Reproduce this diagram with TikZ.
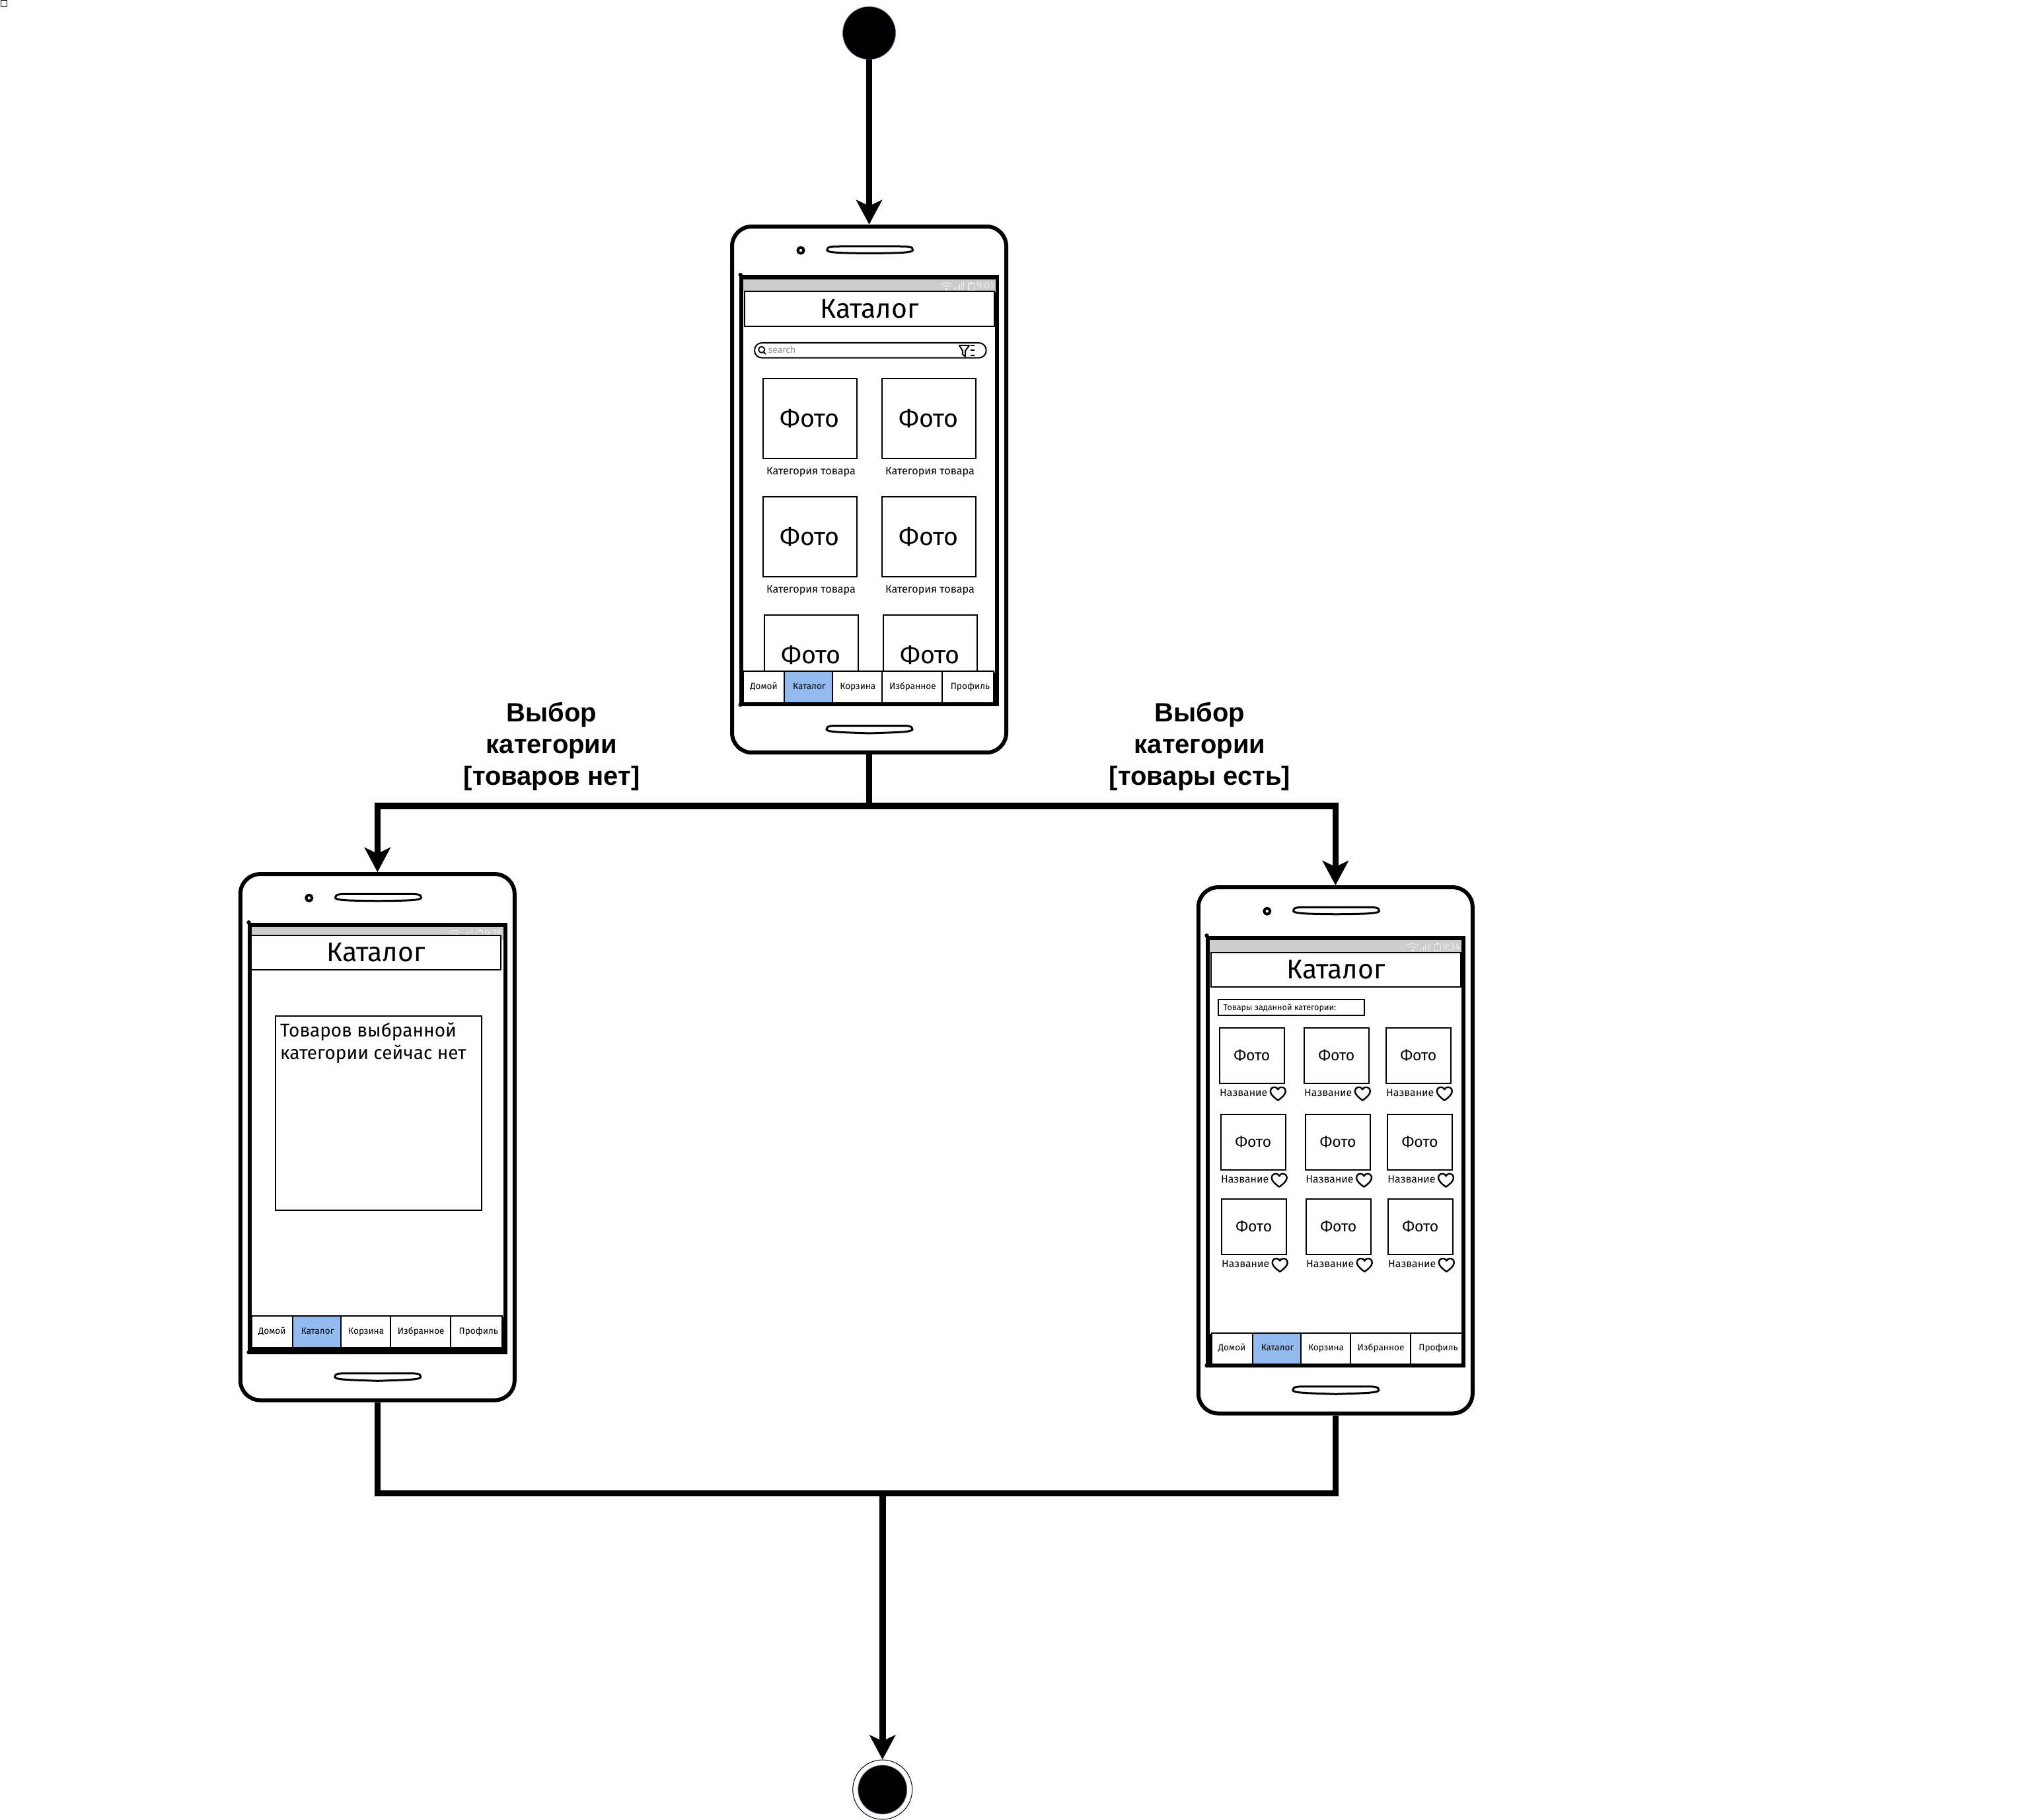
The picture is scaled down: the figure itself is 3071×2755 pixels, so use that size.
\documentclass[tikz,border=0pt]{standalone}
\usepackage{fontspec}
\usepackage{tikz}
\usetikzlibrary{arrows.meta,calc}
\setmainfont{Fira Sans}
\newfontfamily\lblfont{Liberation Sans}
\definecolor{statusgray}{HTML}{CCCCCC}
\definecolor{statuslight}{HTML}{EDEDED}
\definecolor{tabblue}{HTML}{94BBF0}
\definecolor{searchgray}{HTML}{8E8E9A}
\definecolor{halo}{HTML}{6A7A96}
\tikzset{
  x=0.5pt,y=-0.5pt,
  phonebody/.style={draw=black,fill=white,line width=3pt,rounded corners=15pt,minimum width=207.5pt,minimum height=398.2pt,inner sep=0pt},
  screenframe/.style={draw=black,line width=3.2pt,fill=white},
  cambutton/.style={draw=black,circle,line width=2pt,minimum size=4.5pt,inner sep=0pt},
  speakerline/.style={draw=black,fill=white,line width=1.5pt},
  titlebox/.style={draw=black,fill=white,line width=1pt,minimum width=189pt,minimum height=26.2pt,inner sep=0pt},
  titletext/.style={inner sep=0pt,font=\fontsize{20.5}{24}\selectfont},
  photobig/.style={draw=black,fill=white,line width=1.15pt,minimum width=70.85pt,minimum height=60.75pt,inner sep=0pt,font=\fontsize{18.8}{22}\selectfont},
  photosmall/.style={draw=black,fill=white,line width=1.15pt,minimum width=49pt,minimum height=42pt,inner sep=0pt,font=\fontsize{11.5}{14}\selectfont},
  captiontext/.style={inner sep=0pt,font=\fontsize{8.1}{10}\selectfont},
  nametext/.style={inner sep=0pt,anchor=west,font=\fontsize{7.9}{10}\selectfont},
  tabcell/.style={draw=black,line width=1pt,inner sep=0pt,minimum height=23.6pt,text height=4.9pt,text depth=1.4pt,font=\fontsize{6.8}{8}\selectfont},
  thinbox/.style={draw=black,line width=1pt,fill=white,inner sep=0pt},
  statusline/.style={draw=statuslight,line width=0.6pt},
  flowline/.style={draw=black,line width=4.8pt},
  flowarrow/.style={flowline,-{Stealth[length=18.5pt,width=19.5pt,inset=4.5pt]}},
  startdot/.style={circle,fill=black,draw=halo,line width=0.4pt,minimum size=40pt,inner sep=0pt},
  endring/.style={circle,fill=white,draw=black,line width=0.5pt,minimum size=45pt,inner sep=0pt},
  enddot/.style={circle,fill=black,draw=halo,line width=0.4pt,minimum size=37pt,inner sep=0pt},
  edgelabel/.style={inner sep=0pt,align=center,font=\lblfont\bfseries\fontsize{20}{24}\selectfont},
}
% centre x, centre y, lower bulge
\newcommand{\speakerat}[3]{%
  \draw[speakerline] ({#1-65},{#2})
    .. controls ({#1-65},{#2-5.5}) and ({#1-58},{#2-5.5}) .. ({#1-45},{#2-5.5})
    -- ({#1+45},{#2-5.5})
    .. controls ({#1+58},{#2-5.5}) and ({#1+65},{#2-5.5}) .. ({#1+65},{#2})
    .. controls ({#1+65},{#2+4.5}) and ({#1+40},{#2+4.5}) .. ({#1},{#2+#3})
    .. controls ({#1-40},{#2+4.5}) and ({#1-65},{#2+4.5}) .. ({#1-65},{#2}) -- cycle;
}
% name, x0, y0, time, title centre x, title centre y
\newcommand{\phoneframe}[6]{%
  \node[phonebody] (#1) at ({#2+207.5},{#3+398}) {};
  \begin{scope}[shift={(#2,#3)}]
    \draw[screenframe] (14,76.5) rectangle (401,723);
    \fill[black] (12.7,73) circle (1.6pt);
    \fill[black] (12.7,723.7) circle (1.6pt);
    \fill[statusgray] (17,80) rectangle (398.5,99.4);
    \node[cambutton] (#1-cam) at (104,36) {};
    \speakerat{208.7}{35.5}{5}
    \speakerat{208}{761}{6}
    % status icons
    \draw[statusline] (315.5,88.5) .. controls (320,84) and (329,84) .. (333.5,88.5);
    \draw[statusline] (319,91.5) .. controls (322,89) and (327,89) .. (330,91.5);
    \fill[statuslight] (324.5,95) circle (1pt);
    \foreach \b/\h in {337/92,340.5/90,344/87.5,347.5/85,350.5/83.5}{\draw[statusline] (\b,96) -- (\b,\h);}
    \draw[statusline] (358,86) rectangle (366.5,96.5);
    \fill[statuslight] (360.5,83.7) rectangle (364,86);
    \node[inner sep=0pt,text=statuslight,font=\fontsize{7.5}{9}\selectfont] (#1-time) at (383,90) {#4};
    \node[titlebox] (#1-title) at (#5,#6) {};
    \node[titletext] (#1-titletext) at (#5,#6) {Каталог};
  \end{scope}
}
% name, x0, y0, dx, tab top
\newcommand{\tabbar}[5]{%
  \begin{scope}[shift={(#2,#3)}]
    \fill[black] (17,{#5+2}) rectangle (400,726);
    \begin{scope}[shift={(#4,#5)}]
      \foreach \n/\a/\b/\f/\t/\o in {h/0/62/white/Домой/0pt,c/62/134.9/tabblue/Каталог/1.5pt,k/134.9/209.9/white/Корзина/1pt,i/209.9/300.9/white/Избранное/1pt,p/300.9/379/white/Профиль/3.5pt}{
        \node[tabcell,fill=\f,minimum width={(\b-\a)*0.5pt}] (#1-tab\n) at ({17+(\a+\b)/2},24.2) {\hspace{\o}\t};
      }
    \end{scope}
  \end{scope}
}
\newcommand{\heartshape}[2]{%
  \draw[black,line width=1.2pt,line join=round] ({#1+11.5},{#2+20})
    .. controls ({#1+6},{#2+16}) and ({#1},{#2+11}) .. ({#1},{#2+6.5})
    .. controls ({#1},{#2+2}) and ({#1+3},{#2}) .. ({#1+6.5},{#2})
    .. controls ({#1+9},{#2}) and ({#1+10.5},{#2+1.5}) .. ({#1+11.5},{#2+3.5})
    .. controls ({#1+12.5},{#2+1.5}) and ({#1+14},{#2}) .. ({#1+16.5},{#2})
    .. controls ({#1+20},{#2}) and ({#1+23},{#2+2}) .. ({#1+23},{#2+6.5})
    .. controls ({#1+23},{#2+11}) and ({#1+17},{#2+16}) .. ({#1+11.5},{#2+20}) -- cycle;
}
\begin{document}
\begin{tikzpicture}
\useasboundingbox (0,0) rectangle (3071,2755);
\fill[white] (0,0) rectangle (3071,2755);
\draw[black,line width=0.5pt] (1,1) rectangle (10,10);

% start and end
\node[startdot] (start) at (1315.5,50) {};
\node[endring] (endo) at (1335.7,2709) {};
\node[enddot] (endi) at (1335.7,2709) {};

% ---------- top phone
\phoneframe{top}{1108}{343}{9:01}{208}{124.5}
\begin{scope}[shift={(1108,343)}]
  \draw[thinbox,rounded corners=5.6pt] (34,176) rectangle (384.7,198.7);
  \draw[black,line width=0.9pt] (44.7,186.3) circle (2.3pt);
  \draw[black,line width=1pt] (48,190) -- (51,193);
  \node[inner sep=0pt,text=searchgray,font=\fontsize{7}{8}\selectfont] (top-search) at (75.5,186.5) {search};
  \draw[black,line width=1pt,line join=round] (344,180) -- (359,180) -- (353,188) -- (353,196.5) -- (349,193.5) -- (349,188) -- cycle;
  \foreach \yy in {180,187,195}{\draw[black,line width=0.7pt] (361,\yy) -- (367,\yy);}
  \foreach \n/\xx/\yy in {a/47/229.7,b/227/229.7,c/47/408.7,d/227/408.7,e/49/587.7,f/229/587.7}{
    \node[photobig] (top-photo\n) at ({\xx+70.85},{\yy+60.75}) {Фото};
  }
  \foreach \n/\xx/\yy in {a/47/229.7,b/227/229.7,c/47/408.7,d/227/408.7}{
    \node[captiontext] (top-cap\n) at ({\xx+72.5},{\yy+141.5}) {Категория товара};
  }
\end{scope}
\tabbar{top}{1108}{343}{0}{672.7}

% ---------- left phone
\phoneframe{left}{363.8}{1323.3}{9:35}{205.2}{118.7}
\begin{scope}[shift={(363.8,1323.3)}]
  \node[thinbox,minimum width=156pt,minimum height=147pt] (left-msg) at (209.5,362) {};
  \node[inner sep=0pt,anchor=north west,align=left,font=\fontsize{14}{17.2}\selectfont] (left-msgtext) at (60,224) {Товаров выбранной\\категории сейчас нет};
\end{scope}
\tabbar{left}{363.8}{1323.3}{0}{668.4}

% ---------- right phone
\phoneframe{right}{1813.8}{1343.3}{9:34}{208.2}{124.5}
\begin{scope}[shift={(1813.8,1343.3)}]
  \node[thinbox,minimum width=110.5pt,minimum height=11.7pt] (right-head) at (140.5,181.7) {};
  \node[inner sep=0pt,anchor=west,font=\fontsize{6.3}{8}\selectfont] (right-headtext) at (37.5,182.4) {Товары заданной категории:};
  \foreach \n/\xx/\yy in {a/32/212.4,b/160/212.4,c/284/212.4,d/33.9/343.4,e/162.2/343.4,f/286.2/343.4,g/34.9/471.7,h/163/471.7,i/287/471.7}{
    \node[photosmall] (right-photo\n) at ({\xx+49},{\yy+42}) {Фото};
    \node[nametext] (right-name\n) at (\xx,{\yy+98.5}) {Название};
    \heartshape{\xx+77}{\yy+90}
  }
\end{scope}
\tabbar{right}{1813.8}{1343.3}{2.8}{673.7}

% ---------- connectors
\coordinate (split) at ($(top.south)+(0,78)$);
\coordinate (merge) at (1335.7,2260.3);
\draw[flowarrow] (start) -- (top.north);
\draw[flowline] (top.south) -- (split);
\draw[flowarrow] (split) -| (left.north);
\draw[flowarrow] (split) -| (right.north);
\draw[flowline] (left.south) |- (merge);
\draw[flowline] (right.south) |- (merge);
\draw[flowarrow] (merge) -- (endo.north);

% ---------- labels
\node[edgelabel] (labelleft) at (835,1129.5) {Выбор\\категории\\{[}товаров нет{]}};
\node[edgelabel] (labelright) at (1816,1129.5) {Выбор\\категории\\{[}товары есть{]}};
\end{tikzpicture}
\end{document}
